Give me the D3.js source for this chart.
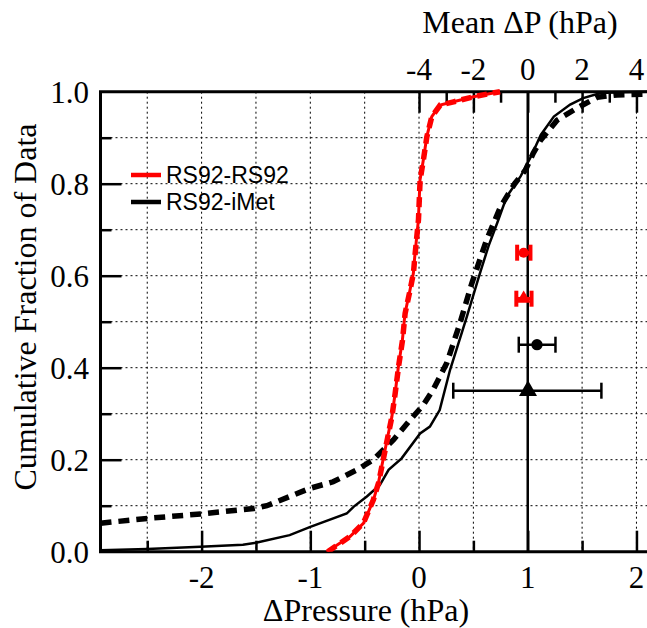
<!DOCTYPE html>
<html>
<head>
<meta charset="utf-8">
<script src="https://cdn.jsdelivr.net/npm/d3@7"></script>
<style>
  body { margin: 0; background: #fff; }
  svg { display: block; }
</style>
</head>
<body>
<svg id="canvas" width="647" height="628"></svg>
<script>
// cumulative curves: [ΔPressure (hPa), cumulative fraction]
const rs92RS92Solid = [
    [-0.85, 0.0], [-0.75, 0.015], [-0.635, 0.033], [-0.51, 0.062], [-0.42, 0.112],
    [-0.374, 0.149], [-0.328, 0.203], [-0.282, 0.257], [-0.25, 0.293], [-0.22, 0.344],
    [-0.19, 0.402], [-0.153, 0.46], [-0.129, 0.518], [-0.083, 0.569], [-0.052, 0.605],
    [-0.04, 0.64], [-0.006, 0.721], [0.009, 0.808], [0.04, 0.852], [0.071, 0.902],
    [0.117, 0.946], [0.193, 0.971], [0.316, 0.978], [0.5, 0.989], [0.745, 1.0]
];
const rs92RS92Dashed = [
    [-0.84, 0.0], [-0.74, 0.016], [-0.63, 0.034], [-0.51, 0.063], [-0.42, 0.113],
    [-0.372, 0.15], [-0.326, 0.204], [-0.28, 0.258], [-0.249, 0.294], [-0.219, 0.345],
    [-0.188, 0.403], [-0.152, 0.46], [-0.128, 0.518], [-0.082, 0.569], [-0.051, 0.606],
    [-0.039, 0.64], [-0.005, 0.722], [0.01, 0.808], [0.041, 0.853], [0.072, 0.902],
    [0.118, 0.946], [0.195, 0.971], [0.318, 0.978], [0.5, 0.989], [0.745, 1.0]
];
const rs92IMetSolid = [
    [-2.93, 0.003], [-2.5, 0.006], [-2.01, 0.011], [-1.62, 0.015], [-1.49, 0.02],
    [-1.19, 0.036], [-1.0, 0.054], [-0.665, 0.083], [-0.6, 0.098], [-0.48, 0.12],
    [-0.36, 0.145], [-0.28, 0.178], [-0.16, 0.203], [0.01, 0.257], [0.1, 0.272],
    [0.19, 0.308], [0.285, 0.395], [0.44, 0.511], [0.56, 0.605], [0.64, 0.665],
    [0.72, 0.715], [0.807, 0.772], [0.934, 0.816], [1.03, 0.859], [1.12, 0.906],
    [1.24, 0.946], [1.39, 0.972], [1.51, 0.986], [1.67, 0.997], [1.85, 0.999], [2.15, 1.0]
];
const rs92IMetDashed = [
    [-2.93, 0.062], [-2.47, 0.073], [-2.01, 0.082], [-1.52, 0.094], [-1.4, 0.1],
    [-1.0, 0.138], [-0.79, 0.152], [-0.57, 0.178], [-0.42, 0.2], [-0.236, 0.243],
    [-0.083, 0.286], [0.04, 0.319], [0.13, 0.352], [0.255, 0.41], [0.377, 0.497],
    [0.485, 0.583], [0.62, 0.677], [0.75, 0.75], [0.88, 0.80], [0.98, 0.83],
    [1.05, 0.866], [1.12, 0.895], [1.27, 0.938], [1.45, 0.964], [1.64, 0.988],
    [1.82, 0.993], [2.15, 0.995]
];

// mean ΔP with error bars (top axis), vertical position on the fraction axis
const meanColors = ['red', 'red', 'black', 'black'];
const meanSymbols = ['circle', 'triangle', 'circle', 'triangle'];
const meanValues = [-0.15, -0.15, 0.34, 0.01];
const meanLow = [-0.39, -0.42, -0.33, -2.74];
const meanHigh = [0.1, 0.14, 1.02, 2.71];
const meanRows = [0.65, 0.55, 0.45, 0.35];

const legendNames = ['RS92-RS92', 'RS92-iMet'];
const legendColors = ['red', 'black'];

const bottomTicks = [-2, -1, 0, 1, 2];
const topTicks = [-4, -2, 0, 2, 4];
const leftTicks = [0, 0.2, 0.4, 0.6, 0.8, 1.0];

const serif = '"Liberation Serif", "Times New Roman", Times, "DejaVu Serif", serif';
const sans = '"Liberation Sans", Arial, Helvetica, sans-serif';

const svg = d3.select('#canvas');
const plotLeft = 100.5, plotRight = 649.5, plotTop = 91.7, plotBottom = 551.7;

const xDomain = [-2.93, 2.12];
const x = d3.scaleLinear().domain(xDomain).range([plotLeft, plotRight]);
const xTop = d3.scaleLinear().domain(xDomain.map(v => 4 * (v - 1))).range([plotLeft, plotRight]);
const y = d3.scaleLinear().domain([0, 1]).range([plotBottom, plotTop]);

svg.append('clipPath').attr('id', 'plot-clip')
    .append('rect').attr('x', plotLeft).attr('y', plotTop - 4)
    .attr('width', plotRight - plotLeft).attr('height', plotBottom - plotTop + 4);

// dotted grid
const grid = svg.append('g').attr('stroke', '#000').attr('stroke-width', 1)
    .attr('stroke-dasharray', '2,3');
d3.range(-2.5, 2.01, 0.5).forEach(v => {
    grid.append('line').attr('x1', x(v)).attr('x2', x(v)).attr('y1', plotTop).attr('y2', plotBottom);
});
d3.range(0.1, 0.95, 0.1).forEach(v => {
    grid.append('line').attr('x1', plotLeft).attr('x2', plotRight).attr('y1', y(v)).attr('y2', y(v));
});

// vertical zero line of the mean ΔP axis
svg.append('line')
    .attr('x1', xTop(0)).attr('x2', xTop(0)).attr('y1', plotTop).attr('y2', plotBottom)
    .attr('stroke', '#000').attr('stroke-width', 2.5);

// axes with inward ticks
const bottomAxis = svg.append('g').attr('transform', `translate(0,${plotBottom})`)
    .call(d3.axisBottom(x).tickValues(d3.range(-2.5, 2.01, 0.5))
        .tickSize(-11).tickFormat(''));
bottomAxis.selectAll('.tick line').filter(d => Number.isInteger(d)).attr('y2', -21);

const topAxis = svg.append('g').attr('transform', `translate(0,${plotTop})`)
    .call(d3.axisTop(xTop).tickValues(d3.range(-4, 4.01, 1)).tickSize(-11).tickFormat(''));
topAxis.selectAll('.tick line').filter(d => d % 2 === 0).attr('y2', 21);

const leftAxis = svg.append('g').attr('transform', `translate(${plotLeft},0)`)
    .call(d3.axisLeft(y).tickValues(d3.range(0.1, 0.95, 0.1)).tickSize(-11).tickFormat(''));
leftAxis.selectAll('.tick line').filter((d, i) => i % 2 === 1).attr('x2', 21);

[bottomAxis, topAxis, leftAxis].forEach(axis => {
    axis.select('.domain').remove();
    axis.selectAll('.tick line').attr('stroke-width', 2.5);
});

// frame lines
svg.append('path')
    .attr('d', `M${plotRight},${plotTop}H${plotLeft}V${plotBottom}H${plotRight}`)
    .attr('fill', 'none').attr('stroke', '#000').attr('stroke-width', 3);

// tick labels
const labelGroup = () => svg.append('g').style('font-family', serif).style('font-size', '31px');

labelGroup().attr('text-anchor', 'middle')
    .selectAll('text').data(bottomTicks).enter().append('text')
    .attr('x', d => x(d)).attr('y', 588)
    .text(d => d);

labelGroup().attr('text-anchor', 'middle')
    .selectAll('text').data(topTicks).enter().append('text')
    .attr('x', d => xTop(d)).attr('y', 80)
    .text(d => d);

labelGroup().attr('text-anchor', 'end')
    .selectAll('text').data(leftTicks).enter().append('text')
    .attr('x', 89).attr('y', d => y(d)).attr('dy', '0.35em')
    .text(d => d.toFixed(1));

// axis titles
const titles = svg.append('g').style('font-family', serif).style('font-size', '32px')
    .attr('text-anchor', 'middle');
titles.append('text').attr('x', 366).attr('y', 621).text('ΔPressure (hPa)');
titles.append('text').attr('x', 520).attr('y', 33).text('Mean ΔP (hPa)');
titles.append('text').attr('transform', 'translate(36,307) rotate(-90)')
    .text('Cumulative Fraction of Data');

// curves
const line = d3.line().x(d => x(d[0])).y(d => y(d[1]));
const curves = svg.append('g').attr('clip-path', 'url(#plot-clip)').attr('fill', 'none');

curves.append('path').datum(rs92IMetSolid).attr('d', line)
    .attr('stroke', '#000').attr('stroke-width', 2.5);
curves.append('path').datum(rs92IMetDashed).attr('d', line)
    .attr('stroke', '#000').attr('stroke-width', 5.5).attr('stroke-dasharray', '11,7');
curves.append('path').datum(rs92RS92Solid).attr('d', line)
    .attr('stroke', 'red').attr('stroke-width', 3);
curves.append('path').datum(rs92RS92Dashed).attr('d', line)
    .attr('stroke', 'red').attr('stroke-width', 5.5).attr('stroke-dasharray', '10,6');

// mean ΔP markers with error bars
const means = meanValues.map((v, i) => ({
    value: v, low: meanLow[i], high: meanHigh[i], row: meanRows[i],
    color: meanColors[i], symbol: meanSymbols[i]
}));

const bars = svg.append('g').selectAll('g').data(means).enter().append('g');
bars.append('line')
    .attr('x1', d => xTop(d.low)).attr('x2', d => xTop(d.high))
    .attr('y1', d => y(d.row)).attr('y2', d => y(d.row))
    .attr('stroke', d => d.color).attr('stroke-width', d => d.color === 'red' ? 3.5 : 2.5);
[d => d.low, d => d.high].forEach(end => {
    bars.append('line')
        .attr('x1', d => xTop(end(d))).attr('x2', d => xTop(end(d)))
        .attr('y1', d => y(d.row) - 8).attr('y2', d => y(d.row) + 8)
        .attr('stroke', d => d.color).attr('stroke-width', d => d.color === 'red' ? 4 : 2.5);
});
bars.append('path')
    .attr('transform', d => `translate(${xTop(d.value)},${y(d.row)})`)
    .attr('d', d => d3.symbol()
        .type(d.symbol === 'circle' ? d3.symbolCircle : d3.symbolTriangle)
        .size(d.symbol === 'circle' ? (d.color === 'red' ? 80 : 100) : (d.color === 'red' ? 90 : 140))())
    .attr('fill', d => d.color);

// legend
const legend = svg.append('g').selectAll('g').data(legendNames).enter().append('g')
    .attr('transform', (d, i) => `translate(131,${175 + i * 27})`);
legend.append('line').attr('x1', 0).attr('x2', 30)
    .attr('stroke', (d, i) => legendColors[i]).attr('stroke-width', 4.5);
legend.append('text').attr('x', 35).attr('y', 8)
    .style('font-family', sans).style('font-size', '23px')
    .text(d => d);
</script>
</body>
</html>
